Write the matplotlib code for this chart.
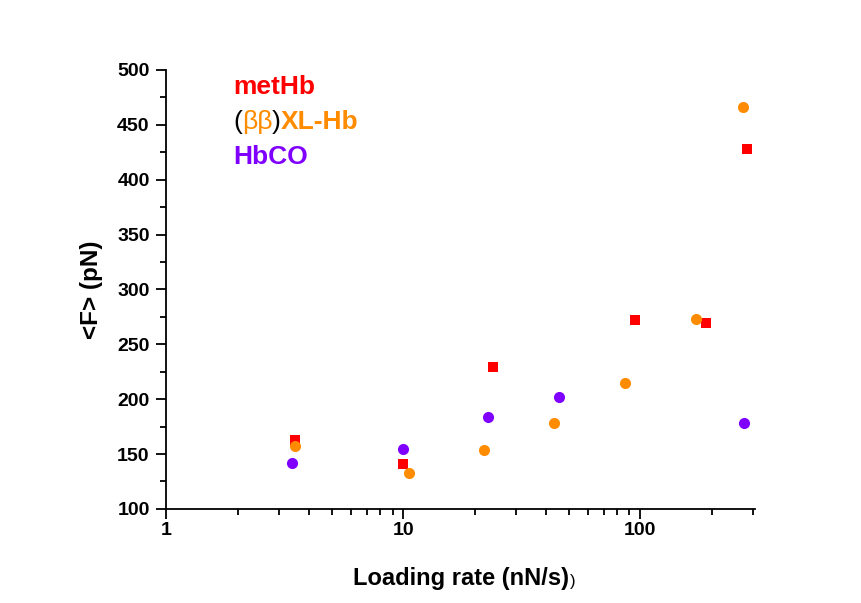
import numpy as np
import matplotlib
matplotlib.use("Agg")
import matplotlib.pyplot as plt
from matplotlib.ticker import LogLocator, FixedLocator, MultipleLocator, NullFormatter

plt.rcParams['font.family'] = ['Liberation Sans', 'DejaVu Sans']

# loading rate (nN/s) and mean force (pN)
methb_x = [3.5, 10.0, 23.8, 95.0, 189.0, 282.0]
methb_y = [163, 141, 229, 272, 269, 428]

xlhb_x = [3.5, 10.6, 21.8, 43.4, 86.2, 172.0, 272.0]
xlhb_y = [157, 133, 154, 178, 215, 273, 466]

hbco_x = [3.4, 10.0, 22.8, 45.4, 274.0]
hbco_y = [142, 155, 184, 202, 178]

red = "#FF0000"
orange = "#FF8C00"
purple = "#7F00FF"

fig = plt.figure(figsize=(8.62, 6.03), dpi=100)
ax = fig.add_axes([0.193, 0.156, 0.683, 0.728])

ax.plot(methb_x, methb_y, 's', color=red, markersize=7, markeredgewidth=0)
ax.plot(xlhb_x, xlhb_y, 'o', color=orange, markersize=8, markeredgewidth=0)
ax.plot(hbco_x, hbco_y, 'o', color=purple, markersize=8, markeredgewidth=0)

ax.set_xscale('log')
ax.set_xlim(1, 305)
ax.set_ylim(100, 500)

ax.xaxis.set_major_locator(FixedLocator([1, 10, 100]))
ax.xaxis.set_major_formatter(plt.FuncFormatter(lambda v, p: "%d" % v))
ax.xaxis.set_minor_locator(LogLocator(base=10, subs=np.arange(2, 10)))
ax.xaxis.set_minor_formatter(NullFormatter())
ax.yaxis.set_major_locator(MultipleLocator(50))
ax.yaxis.set_minor_locator(MultipleLocator(25))

for s in ['top', 'right']:
    ax.spines[s].set_visible(False)
for s in ['left', 'bottom']:
    ax.spines[s].set_linewidth(1.3)

ax.tick_params(which='major', length=7, width=1.3, labelsize=14)
ax.tick_params(axis='x', which='major', pad=2.5)
ax.tick_params(axis='y', which='major', pad=5)
ax.tick_params(which='minor', length=4, width=1.3)
for lab in ax.get_xticklabels() + ax.get_yticklabels():
    lab.set_fontweight('bold')

xl = ax.set_xlabel("Loading rate (nN/s)", fontsize=17, fontweight='bold', labelpad=20)
ax.set_ylabel("<F> (pN)", fontsize=17.5, fontweight='bold', labelpad=10)
ax.annotate(")", xy=(1, 0.05), xycoords=xl, xytext=(1, 0), textcoords='offset points',
            fontsize=12, va='bottom', ha='left')

# coloured legend text
ax.text(0.113, 0.962, "metHb", transform=ax.transAxes, color=red,
        fontsize=19, fontweight='bold', va='center')
t1 = ax.text(0.113, 0.882, "(", transform=ax.transAxes, color='black',
             fontsize=19, va='center')
t2 = ax.annotate("ββ", xy=(1, 0), xycoords=t1, color=orange, fontsize=19, va='bottom')
t3 = ax.annotate(")", xy=(1, 0), xycoords=t2, color='black', fontsize=19, va='bottom')
ax.annotate("XL-Hb", xy=(1, 0), xycoords=t3, color=orange, fontsize=19,
            fontweight='bold', va='bottom')
ax.text(0.113, 0.802, "HbCO", transform=ax.transAxes, color=purple,
        fontsize=19, fontweight='bold', va='center')

fig.savefig("out.png", dpi=100, facecolor='white')
